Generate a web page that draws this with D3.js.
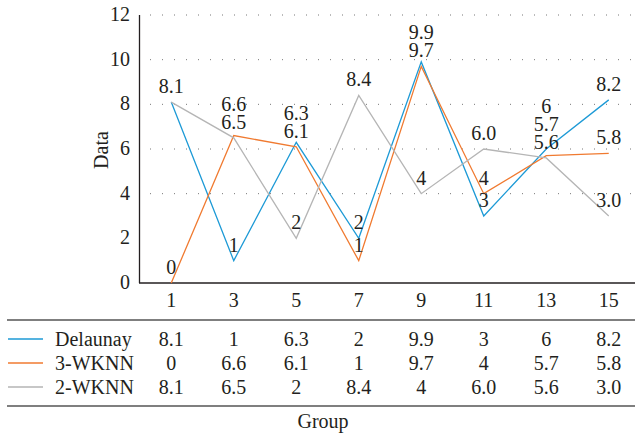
<!DOCTYPE html>
<html>
<head>
<meta charset="utf-8">
<script src="https://cdn.jsdelivr.net/npm/d3@7"></script>
</head>
<body style="margin:0">
<svg id="svg" width="635" height="438"></svg>
<script>
  var width = 635,
      height = 438,
      fontSize = 20;

  // data
  var groups = ["1", "3", "5", "7", "9", "11", "13", "15"];
  var seriesNames = ["Delaunay", "3-WKNN", "2-WKNN"];
  var delaunay = [8.1, 1, 6.3, 2, 9.9, 3, 6, 8.2];
  var wknn3 = [0, 6.6, 6.1, 1, 9.7, 4, 5.7, 5.8];
  var wknn2 = [8.1, 6.5, 2, 8.4, 4, 6.0, 5.6, 3.0];
  // text as printed in the table / labels
  var delaunayTxt = ["8.1", "1", "6.3", "2", "9.9", "3", "6", "8.2"];
  var wknn3Txt = ["0", "6.6", "6.1", "1", "9.7", "4", "5.7", "5.8"];
  var wknn2Txt = ["8.1", "6.5", "2", "8.4", "4", "6.0", "5.6", "3.0"];
  var yTicks = [0, 2, 4, 6, 8, 10, 12];
  var gridTicks = [4, 6, 8, 10, 12];
  var colors = ["#1d9ad6", "#f07a30", "#b5b5b5"];

  var series = [
    { name: seriesNames[0], values: delaunay, txt: delaunayTxt, color: colors[0] },
    { name: seriesNames[1], values: wknn3, txt: wknn3Txt, color: colors[1] },
    { name: seriesNames[2], values: wknn2, txt: wknn2Txt, color: colors[2] }
  ];

  var svg = d3.select("#svg")
    .style("font-family", "'Liberation Serif', serif");

  // every text gets its own font style
  function label(sel) {
    sel.style("font-family", "'Liberation Serif'")
      .attr("font-family", "Liberation Serif")
      .attr("font-size", fontSize)
      .attr("fill", "#231f20");
  }

  var x = d3.scaleBand()
    .domain(groups)
    .range([140, 640]);

  var y = d3.scaleLinear()
    .domain([0, 12])
    .range([283, 15]);

  var cx = function(g) { return x(g) + x.bandwidth() / 2; };

  // dotted grid
  svg.append("g").selectAll("line").data(gridTicks)
    .enter().append("line")
      .attr("x1", 150).attr("x2", 635)
      .attr("y1", d => y(d)).attr("y2", d => y(d))
      .attr("stroke", "#777")
      .attr("stroke-width", 1)
      .attr("stroke-dasharray", "1,11");

  // axes
  svg.append("line")
    .attr("x1", 139.5).attr("x2", 139.5)
    .attr("y1", y(12)).attr("y2", y(0))
    .attr("stroke", "#231f20").attr("stroke-width", 1.3);
  svg.append("line")
    .attr("x1", 139).attr("x2", 635)
    .attr("y1", y(0)).attr("y2", y(0))
    .attr("stroke", "#231f20").attr("stroke-width", 1.3);

  svg.append("g").selectAll("text").data(yTicks)
    .enter().append("text")
      .attr("x", 130)
      .attr("y", d => y(d) + 6)
      .attr("text-anchor", "end")
      .call(label)
      .text(d => d);

  svg.append("text")
    .attr("transform", "translate(108,150) rotate(-90)")
    .attr("text-anchor", "middle")
    .call(label)
    .text("Data");

  svg.append("g").selectAll("text").data(groups)
    .enter().append("text")
      .attr("x", d => cx(d))
      .attr("y", 307)
      .attr("text-anchor", "middle")
      .call(label)
      .text(d => d);

  // lines
  var line = d3.line()
    .x((d, i) => cx(groups[i]))
    .y(d => y(d));

  series.forEach(function(s) {
    svg.append("path")
      .datum(s.values)
      .attr("fill", "none")
      .attr("stroke", s.color)
      .attr("stroke-width", 1.3)
      .attr("d", line);
  });

  // value labels above points, pushed apart when they collide
  var labelOffset = 15,
      labelGap = 18;
  groups.forEach(function(g, i) {
    var seen = {};
    var labs = [];
    series.forEach(function(s) {
      var t = s.txt[i];
      if (seen[t]) return;
      seen[t] = true;
      labs.push({ t: t, y: y(s.values[i]) - labelOffset });
    });
    labs.sort((a, b) => b.y - a.y);
    for (var k = 1; k < labs.length; k++) {
      if (labs[k - 1].y - labs[k].y < labelGap) labs[k].y = labs[k - 1].y - labelGap;
    }
    labs.forEach(function(l) {
      svg.append("text")
        .attr("x", cx(g))
        .attr("y", l.y + 6)
        .attr("text-anchor", "middle")
        .call(label)
        .text(l.t);
    });
  });

  // data table
  svg.append("line")
    .attr("x1", 7).attr("x2", 635)
    .attr("y1", 320).attr("y2", 320)
    .attr("stroke", "#555").attr("stroke-width", 1.5);
  svg.append("line")
    .attr("x1", 7).attr("x2", 635)
    .attr("y1", 406).attr("y2", 406)
    .attr("stroke", "#555").attr("stroke-width", 1.5);

  var rowY = d3.scalePoint()
    .domain(seriesNames)
    .range([339, 387]);

  series.forEach(function(s) {
    var ry = rowY(s.name);
    svg.append("line")
      .attr("x1", 8).attr("x2", 43)
      .attr("y1", ry).attr("y2", ry)
      .attr("stroke", s.color).attr("stroke-width", 1.3);
    svg.append("text")
      .attr("x", 55)
      .attr("y", ry + 7)
      .call(label)
      .text(s.name);
    svg.append("g").selectAll("text").data(s.txt)
      .enter().append("text")
        .attr("x", (d, i) => cx(groups[i]))
        .attr("y", ry + 7)
        .attr("text-anchor", "middle")
        .call(label)
        .text(d => d);
  });

  svg.append("text")
    .attr("x", 323)
    .attr("y", 428)
    .attr("text-anchor", "middle")
    .call(label)
    .text("Group");
</script>
</body>
</html>
